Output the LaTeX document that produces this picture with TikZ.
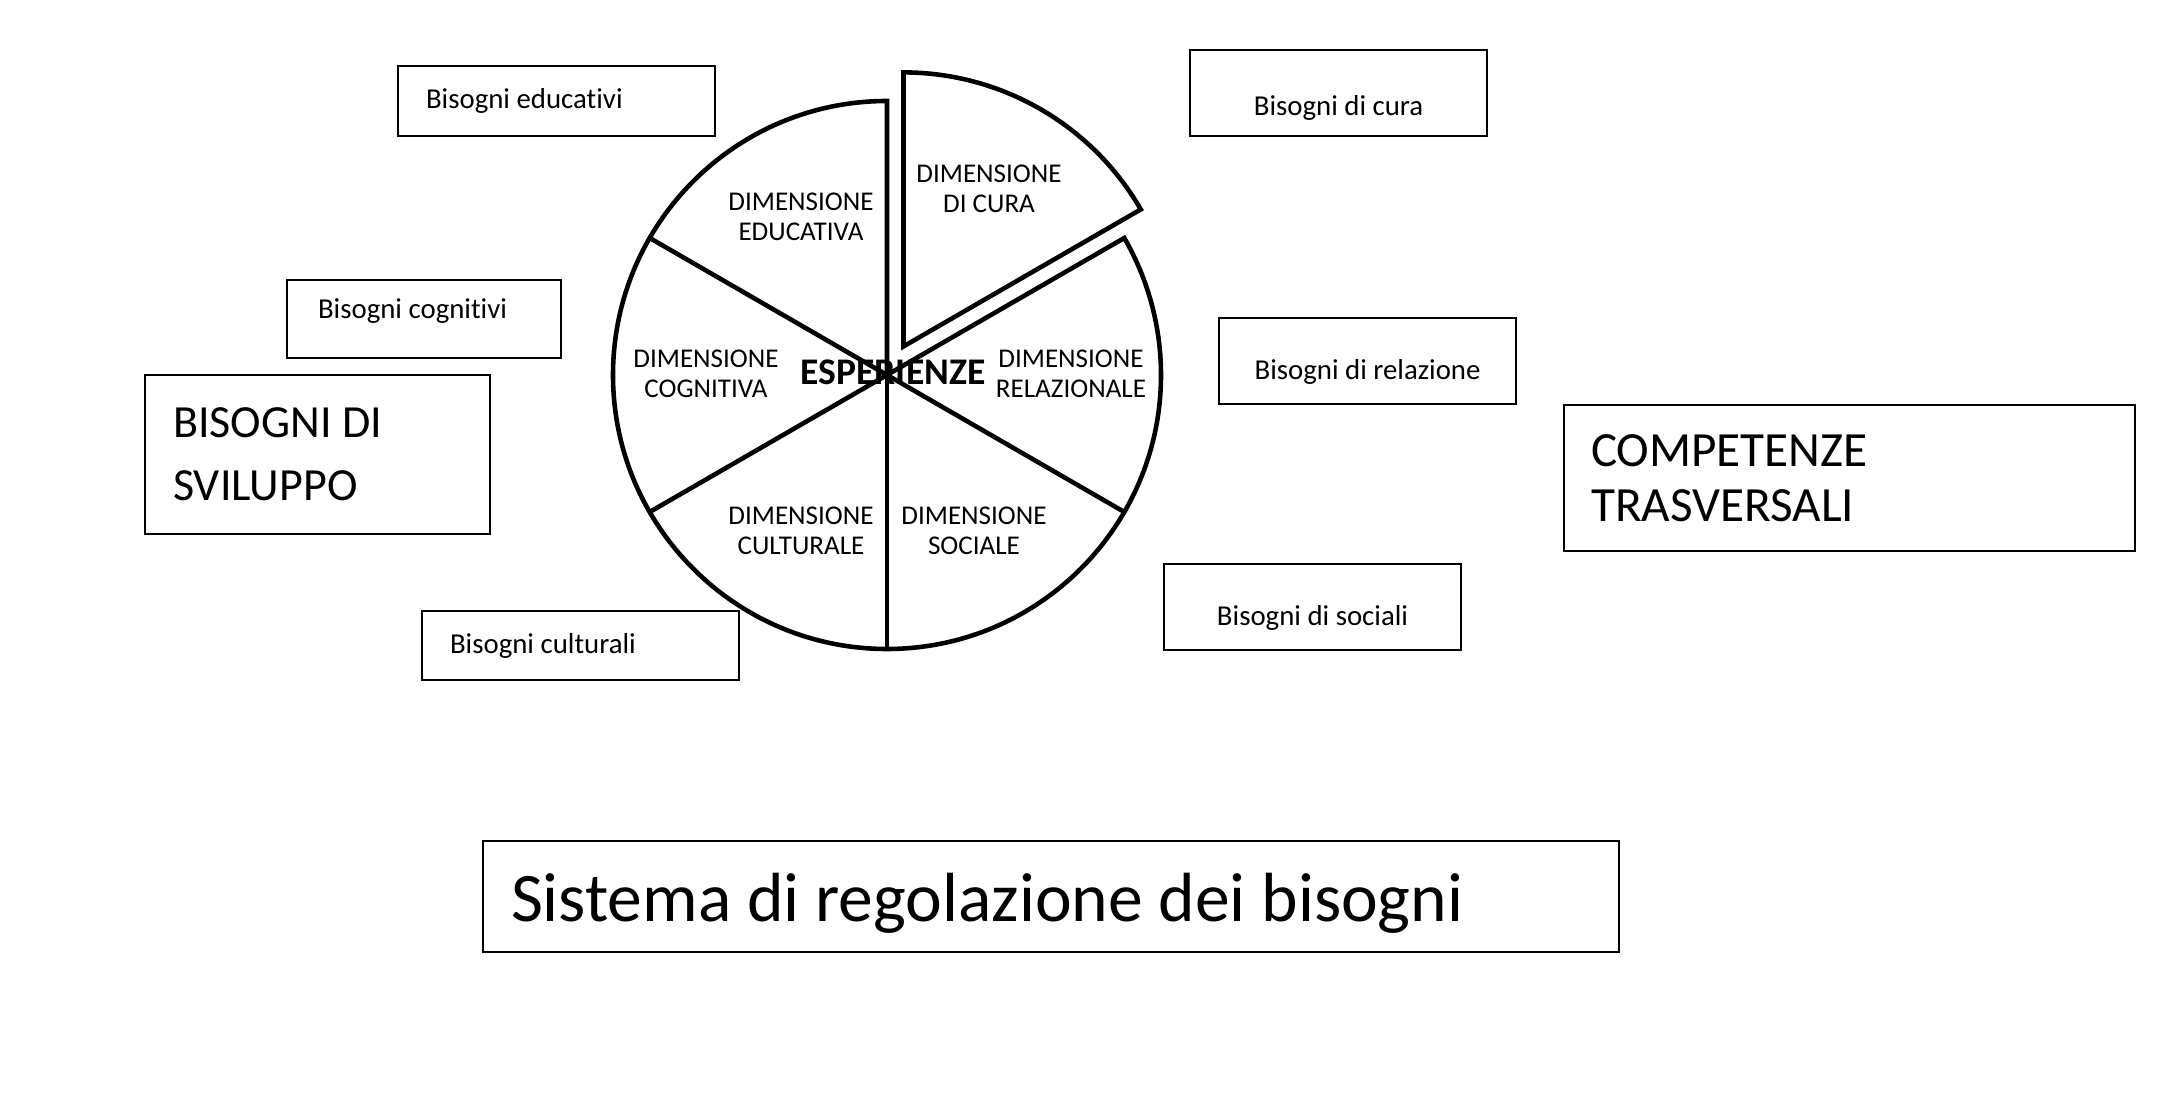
\documentclass[tikz,border=0pt]{standalone}
\usepackage{fontspec}
\setmainfont{Carlito}[Ligatures=NoCommon]
\usepackage{tikz}
\usetikzlibrary{positioning,calc}

\begin{document}
\begin{tikzpicture}[
  line join=miter,
  every node/.style={font=\fontsize{8.2}{9.5}\selectfont},
  box/.style={draw, line width=0.6pt, inner ysep=0pt, minimum height=#1, anchor=north west},
  lbox/.style={box=#1, align=flush left},
  cbox/.style={box=0.86cm, minimum width=2.97cm, inner xsep=0pt, text depth=2pt},
  dim/.style={align=center, font=\fontsize{7.7}{8.7}\selectfont},
  pie/.style={draw, line width=1.3pt}
]
  \useasboundingbox (0,0) rectangle (21.78,10.94);
  % ruota delle dimensioni
  \coordinate (c) at (8.87,7.19);
  \coordinate (cc) at ($(c)+(60:0.33)$);
  \draw[pie] (c) -- ++(90:2.74) arc[start angle=90,end angle=390,radius=2.74] -- cycle;
  \foreach \a in {150,210,270,330}
    \draw[pie] (c) -- ++(\a:2.74);
  \draw[pie] (cc) -- ++(30:2.74) arc[start angle=30,end angle=90,radius=2.74] -- cycle;
  \node[dim] (educativa) at (8.01,8.77) {DIMENSIONE\\EDUCATIVA};
  \node[dim] (cura) at (9.89,9.05) {DIMENSIONE\\DI CURA};
  \node[dim] (cognitiva) at (7.06,7.20) {DIMENSIONE\\COGNITIVA};
  \node[dim] (relazionale) at (10.71,7.20) {DIMENSIONE\\RELAZIONALE};
  \node[dim] (culturale) at (8.01,5.63) {DIMENSIONE\\CULTURALE};
  \node[dim] (sociale) at (9.74,5.63) {DIMENSIONE\\SOCIALE};
  \node[font=\fontsize{10.7}{12}\bfseries] (esperienze) at (8.93,7.22) {ESPERIENZE};
  % bisogni a sinistra
  \node[lbox=0.70cm, text width=2.61cm, inner xsep=0.28cm] (educativi) at (3.97,10.29) {Bisogni educativi};
  \node[lbox=0.78cm, text width=2.12cm, inner xsep=0.31cm, text depth=6pt] (cognitivi) at (2.86,8.15) {Bisogni cognitivi};
  \node[lbox=1.59cm, text width=2.89cm, inner xsep=0.28cm,
        font=\fontsize{13.1}{18}\selectfont] (sviluppo) at (1.44,7.20) {BISOGNI DI\\SVILUPPO};
  \node[lbox=0.69cm, text width=2.61cm, inner xsep=0.28cm] (culturali) at (4.21,4.84) {Bisogni culturali};
  % bisogni a destra
  \node[cbox, text height=14.5pt] (curabox) at (11.89,10.45) {Bisogni di cura};
  \node[cbox, text height=12.5pt] (relazione) at (12.18,7.77) {Bisogni di relazione};
  \node[cbox, text height=12.5pt] (sociali) at (11.63,5.31) {Bisogni di sociali};
  \node[lbox=1.46cm, text width=5.17cm, inner xsep=0.27cm,
        font=\fontsize{14}{15.8}\selectfont] (competenze) at (15.63,6.90) {COMPETENZE\\TRASVERSALI};
  % sistema
  \node[lbox=1.11cm, text width=10.8cm, inner xsep=0.28cm, text height=18pt, text depth=4pt,
        font=\fontsize{19.8}{22}\selectfont] (sistema) at (4.82,2.54) {Sistema di regolazione dei bisogni};
\end{tikzpicture}
\end{document}
